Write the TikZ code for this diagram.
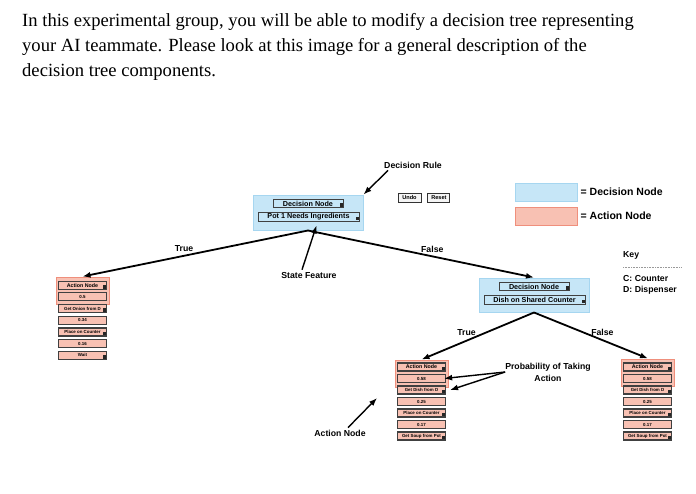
\documentclass[tikz,border=0pt]{standalone}
\usepackage{fontspec}
\setmainfont{Liberation Serif}
\setsansfont{Liberation Sans}
\usetikzlibrary{positioning,arrows.meta}
\definecolor{decfill}{HTML}{C6E6F7}
\definecolor{decline}{HTML}{A6D6F0}
\definecolor{actfill}{HTML}{F8C1B3}
\definecolor{actline}{HTML}{EF8F7C}

\begin{document}
\begin{tikzpicture}[
    x=1pt, y=-1pt,
    every node/.style={inner sep=0pt},
    lab/.style={font=\sffamily\bfseries\fontsize{8.7}{12}\selectfont},
    intro/.style={anchor=base west, font=\rmfamily\fontsize{18.6}{25}\selectfont},
    decnode/.style={draw=decline, fill=decfill, line width=1pt, minimum width=110pt, minimum height=34pt},
    actnode/.style={draw=actline, fill=actfill, line width=1pt, minimum width=53pt, minimum height=27pt},
    field/.style={draw=black!75, fill=actfill, line width=1.2pt, minimum width=48pt, minimum height=8pt, font=\sffamily\bfseries\fontsize{4.4}{5}\selectfont},
    menu/.style={field, path picture={\fill[black!85] ([xshift=-3.5pt,yshift=0.6pt]path picture bounding box.south east) rectangle ++(3pt,3.5pt);}},
    head/.style={menu, font=\sffamily\bfseries\fontsize{5.3}{6}\selectfont},
    decfield/.style={menu, fill=decfill, line width=1pt, minimum height=7.5pt, font=\sffamily\bfseries\fontsize{7.2}{8}\selectfont},
    button/.style={draw=black!80, fill=black!4, line width=0.9pt, minimum height=9pt, font=\sffamily\bfseries\fontsize{5.6}{6}\selectfont},
    edge/.style={line width=1.8pt, -{Latex[length=8pt,width=6pt]}},
    note/.style={line width=1.4pt, -{Latex[length=8pt,width=6pt]}}
  ]
  \useasboundingbox (0,0) rectangle (696,493);
  \node[intro] (intro1) at (22,26) {In this experimental group, you will be able to modify a decision tree representing};
  \node[intro] (intro2) at (22,51) {your AI teammate. Please look at this image for a general description of the};
  \node[intro] (intro3) at (22,76) {decision tree components.};

  \node[decnode, minimum height=35pt] (rootdec) at (308,212.5) {};
  \node[decfield, minimum width=70pt] (rootkind) at (308,203.5) {Decision Node};
  \node[decfield, minimum width=101pt, minimum height=9pt] (rootfeat) at (308.5,216.5) {Pot 1 Needs Ingredients};
  \node[decnode] (subdec) at (534,295) {};
  \node[decfield, minimum width=70pt] (subkind) at (534,286.5) {Decision Node};
  \node[decfield, minimum width=101pt, minimum height=9pt] (subfeat) at (534.5,299.5) {Dish on Shared Counter};

  \node[actnode] (leftact) at (82.5,290.5) {};
  \foreach \t/\s [count=\i] in {Action Node/head, 0.5/field, Get Onion from D/menu, 0.34/field, Place on Counter/menu, 0.16/field, Wait/menu}
    \node[\s] (left-\i) at (82.5,273.4+11.7*\i) {\t};
  \node[actnode] (midact) at (421.5,373.5) {};
  \foreach \t/\s [count=\i] in {Action Node/head, 0.58/field, Get Dish from D/menu, 0.25/field, Place on Counter/menu, 0.17/field, Get Soup from Pot/menu}
    \node[\s] (mid-\i) at (421.5,355.5+11.5*\i) {\t};
  \node[actnode] (rightact) at (648,372.5) {};
  \foreach \t/\s [count=\i] in {Action Node/head, 0.58/field, Get Dish from D/menu, 0.25/field, Place on Counter/menu, 0.17/field, Get Soup from Pot/menu}
    \node[\s] (right-\i) at (647.5,355.5+11.5*\i) {\t};

  \draw[edge] (rootdec.south) -- node[lab, pos=0.55, above=3pt] {True} (leftact.north);
  \draw[edge] (rootdec.south) -- node[lab, pos=0.55, above=3pt] {False} (subdec.north);
  \draw[edge] (subdec.south) -- node[lab, pos=0.6, above=4pt] {True} (midact.north);
  \draw[edge] (subdec.south) -- node[lab, pos=0.6, above=4pt] {False} (rightact.north);

  \node[button, minimum width=23pt] (undo) at (409.5,197.5) {Undo};
  \node[button, minimum width=22pt, right=6pt of undo] (reset) {Reset};

  \node[lab] (rulelab) at (413,165) {Decision Rule};
  \draw[note] ([xshift=4pt,yshift=-2pt]rulelab.south west) -- (rootdec.north east);
  \node[lab] (featlab) at (309,275) {State Feature};
  \draw[note] ([xshift=-7pt,yshift=2pt]featlab.north) -- ([xshift=8pt,yshift=-4pt]rootfeat.south);
  \node[lab, align=center] (problab) at (548,372) {Probability of Taking\\Action};
  \draw[note] (problab.west) -- ([xshift=-2pt]mid-2.east);
  \draw[note] (problab.west) -- ([xshift=4pt]mid-3.east);
  \node[lab] (actlab) at (340,433) {Action Node};
  \coordinate (actaim) at (377,398);
  \draw[note] ([xshift=8pt,yshift=2pt]actlab.north) -- (actaim);

  \node[decnode, minimum width=62pt, minimum height=18pt] (keydec) at (546,192) {};
  \node[actnode, minimum width=62pt, minimum height=18pt] (keyact) at (546,216) {};
  \node[lab, font=\sffamily\bfseries\fontsize{10.5}{12}\selectfont, right=3pt of keydec] (keydectext) {= Decision Node};
  \node[lab, font=\sffamily\bfseries\fontsize{10.5}{12}\selectfont, right=3pt of keyact] (keyacttext) {= Action Node};
  \node[lab, anchor=west] (keyhead) at (623,255) {Key};
  \draw[black!40, line width=0.6pt, dash pattern=on 1pt off 0.6pt] ([yshift=-8pt]keyhead.south west) -- ++(59pt,0pt);
  \node[lab, anchor=west] (keyc) at (623,278) {C: Counter};
  \node[lab, anchor=west] (keyd) at (623,290) {D: Dispenser};
\end{tikzpicture}
\end{document}
